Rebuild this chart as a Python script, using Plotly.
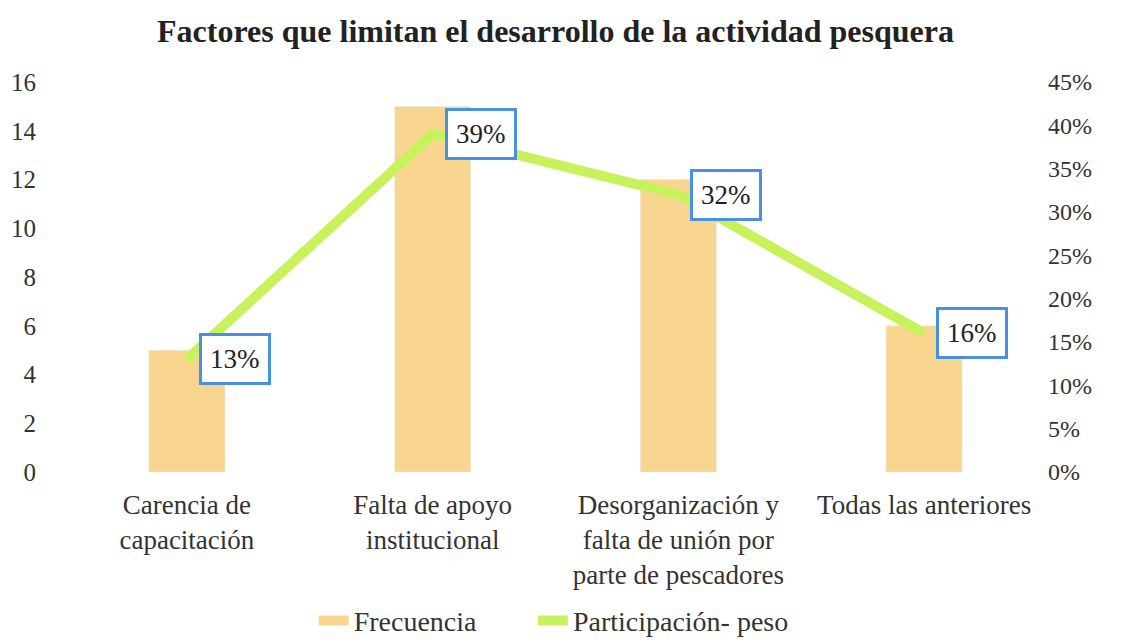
import plotly.graph_objects as go

categorias = [
    "Carencia de<br>capacitación",
    "Falta de apoyo<br>institucional",
    "Desorganización y<br>falta de unión por<br>parte de pescadores",
    "Todas las anteriores",
]
frecuencia = [5, 15, 12, 6]
participacion = [0.13, 0.39, 0.32, 0.16]
etiquetas = ["13%", "39%", "32%", "16%"]

FONT = "Liberation Serif, Times New Roman, serif"
NARANJA = "#F9D68F"
VERDE = "#C8F25C"

fig = go.Figure()

fig.add_trace(go.Bar(
    x=categorias,
    y=frecuencia,
    name="Frecuencia",
    marker_color=NARANJA,
    width=0.31,
    showlegend=False,
))

# entrada de leyenda en forma de franja ancha
fig.add_trace(go.Scatter(
    x=[None], y=[None], mode="lines", name="Frecuencia",
    line=dict(color=NARANJA, width=12), legend="legend",
))

fig.add_trace(go.Scatter(
    x=categorias,
    y=participacion,
    name="Participación- peso",
    mode="lines",
    line=dict(color=VERDE, width=10),
    yaxis="y2",
    legend="legend2",
))

# etiquetas con recuadro azul a la derecha de cada punto
for cat, val, txt in zip(categorias, participacion, etiquetas):
    fig.add_annotation(
        x=cat, y=val, xref="x", yref="y2",
        text=txt, showarrow=False,
        xanchor="left", xshift=12,
        font=dict(family=FONT, size=27, color="#222"),
        bgcolor="white", bordercolor="#4A90E2", borderwidth=3, borderpad=8,
    )

leyenda = dict(
    orientation="h", xanchor="left",
    y=0.047, yanchor="middle", yref="container",
    font=dict(family=FONT, size=28, color="#333"),
    bgcolor="rgba(0,0,0,0)",
)

fig.update_layout(
    title=dict(
        text="<b>Factores que limitan el desarrollo de la actividad pesquera</b>",
        x=0.5, xanchor="center", xref="paper",
        y=0.965, yanchor="middle", yref="container",
        font=dict(family=FONT, size=32, color="#222"),
    ),
    width=1128, height=643,
    margin=dict(l=56, r=89, t=74, b=179, autoexpand=False),
    plot_bgcolor="white",
    paper_bgcolor="white",
    font=dict(family=FONT, size=25, color="#333"),
    bargap=0.69,
    showlegend=True,
    legend=dict(leyenda, x=0.254),
    legend2=dict(leyenda, x=0.477),
    xaxis=dict(showgrid=False, showline=False, ticks="", tickfont=dict(size=27),
               ticklabelstandoff=14),
    yaxis=dict(
        range=[0, 16], dtick=2, showgrid=False, zeroline=False,
        showline=False, ticks="", ticklabelstandoff=27,
    ),
    yaxis2=dict(
        range=[0, 0.45], dtick=0.05, tickformat=".0%", overlaying="y",
        side="right", showgrid=False, zeroline=False, showline=False,
        tickfont=dict(size=24),
    ),
)

fig.write_html("out.html")
